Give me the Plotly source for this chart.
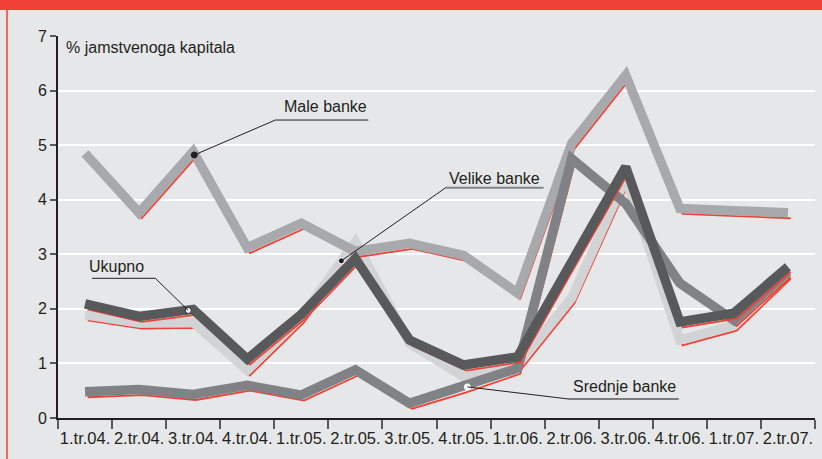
import plotly.graph_objects as go

# Quarters on the x axis
QUARTERS = ['1.tr.04.', '2.tr.04.', '3.tr.04.', '4.tr.04.', '1.tr.05.', '2.tr.05.', '3.tr.05.',
            '4.tr.05.', '1.tr.06.', '2.tr.06.', '3.tr.06.', '4.tr.06.', '1.tr.07.', '2.tr.07.']

# % jamstvenoga kapitala
VELIKE = [1.89, 1.74, 1.75, 0.88, 1.85, 3.23, 1.37, 0.76, 0.97, 2.20, 4.40, 1.43, 1.70, 2.65]
MALE = [4.85, 3.76, 4.88, 3.12, 3.57, 3.05, 3.20, 2.98, 2.29, 5.03, 6.28, 3.84, 3.80, 3.76]
SREDNJE = [0.48, 0.52, 0.43, 0.60, 0.42, 0.88, 0.27, 0.57, 0.91, 4.75, 3.93, 2.47, 1.79, 2.68]
UKUPNO = [2.09, 1.86, 1.99, 1.08, 1.90, 2.92, 1.43, 0.97, 1.12, 2.85, 4.60, 1.76, 1.92, 2.77]

BG = '#e6e7e8'
RED = '#ef4136'
INK = '#231f20'
FONT = 'Arial, Liberation Sans, sans-serif'

# drawing order: bottom to top
SERIES = [
    ('Velike banke', VELIKE, '#d1d3d4'),
    ('Male banke', MALE, '#a7a9ac'),
    ('Srednje banke', SREDNJE, '#808285'),
    ('Ukupno', UKUPNO, '#58595b'),
]

SHADOW_DX = 0.05   # red edge sits a little right of and below each band
SHADOW_DY = 0.10

x = list(range(len(QUARTERS)))

fig = go.Figure()

for name, vals, color in SERIES:
    fig.add_trace(go.Scatter(
        x=[i + SHADOW_DX for i in x], y=[v - SHADOW_DY for v in vals],
        mode='lines', line=dict(color=RED, width=1.8),
        hoverinfo='skip', showlegend=False
    ))
    fig.add_trace(go.Scatter(
        x=x, y=vals, mode='lines', name=name,
        line=dict(color=color, width=9.5),
        showlegend=False
    ))

# callouts: label position, underline span, pointer target, styles
CALLOUTS = [
    dict(text='Male banke', tx=4.44, ty=5.70, ux0=3.52, ux1=5.24, uy=5.46,
         px=2.02, py=4.82, ucolor=INK, uwidth=1, dot=INK, dotline=INK),
    dict(text='Velike banke', tx=7.57, ty=4.38, ux0=6.67, ux1=8.48, uy=4.22,
         px=4.74, py=2.88, ucolor='#808285', uwidth=2, dot=INK, dotline='white'),
    dict(text='Ukupno', tx=0.58, ty=2.77, ux0=0.13, ux1=1.30, uy=2.56,
         px=1.91, py=1.97, ucolor=INK, uwidth=1, dot='white', dotline=INK),
    dict(text='Srednje banke', tx=9.98, ty=0.57, ux0=8.93, ux1=10.98, uy=0.35,
         px=7.07, py=0.57, ucolor='#58595b', uwidth=1.5, dot='white', dotline='white'),
]

for c in CALLOUTS:
    # underline
    fig.add_shape(type='line', xref='x', yref='y', x0=c['ux0'], x1=c['ux1'],
                  y0=c['uy'], y1=c['uy'], line=dict(color=c['ucolor'], width=c['uwidth']))
    # pointer from the near end of the underline to the series
    start = c['ux0'] if c['px'] < c['ux0'] else c['ux1']
    fig.add_shape(type='line', xref='x', yref='y', x0=start, x1=c['px'],
                  y0=c['uy'], y1=c['py'], line=dict(color=INK, width=1))
    fig.add_trace(go.Scatter(
        x=[c['px']], y=[c['py']], mode='markers',
        marker=dict(size=6, color=c['dot'], line=dict(color=c['dotline'], width=1)),
        hoverinfo='skip', showlegend=False
    ))
    fig.add_annotation(x=c['tx'], y=c['ty'], xref='x', yref='y', text=c['text'],
                       showarrow=False, font=dict(family=FONT, size=16, color=INK))

fig.add_annotation(x=0, y=1, xref='paper', yref='paper', xanchor='left', yanchor='top',
                   xshift=6, yshift=-1, text='% jamstvenoga kapitala', showarrow=False,
                   font=dict(family=FONT, size=16, color=INK))

# red header band and left border
fig.add_shape(type='rect', xref='paper', yref='paper', xsizemode='pixel', ysizemode='pixel',
              xanchor=0, yanchor=1, x0=-60, x1=770, y0=26, y1=40,
              fillcolor=RED, line=dict(width=0), layer='above')
fig.add_shape(type='line', xref='paper', yref='paper', xsizemode='pixel', ysizemode='pixel',
              xanchor=0, yanchor=1, x0=-51, x1=-51, y0=26, y1=-430,
              line=dict(color=RED, width=1.5))

fig.update_layout(
    width=822, height=459,
    paper_bgcolor=BG, plot_bgcolor=BG,
    margin=dict(l=58, r=7, t=36, b=41),
    font=dict(family=FONT, size=16, color=INK),
    showlegend=False,
    xaxis=dict(
        range=[-0.5, len(QUARTERS) - 0.5],
        tickmode='array', tickvals=x, ticktext=QUARTERS,
        ticks='outside', ticklen=4, tickcolor='rgba(0,0,0,0)',
        tickfont=dict(size=16.5, color=INK),
        showgrid=False, zeroline=False, automargin=False,
        showline=True, linecolor=INK, linewidth=2,
        minor=dict(tickmode='array', tickvals=[i - 0.5 for i in range(len(QUARTERS) + 1)],
                   ticks='outside', ticklen=9, tickwidth=1.5, tickcolor='#58595b', showgrid=False),
    ),
    yaxis=dict(
        range=[0, 7], dtick=1, tick0=0,
        ticks='outside', ticklen=6, tickwidth=1.5, tickcolor='#58595b',
        tickfont=dict(size=16, color=INK), automargin=False,
        showgrid=True, gridcolor='white', gridwidth=2,
        zeroline=False, showline=True, linecolor=INK, linewidth=2,
    ),
)

fig.write_html('out.html', config={'displayModeBar': False},
               post_script="document.body.style.margin='0';")
